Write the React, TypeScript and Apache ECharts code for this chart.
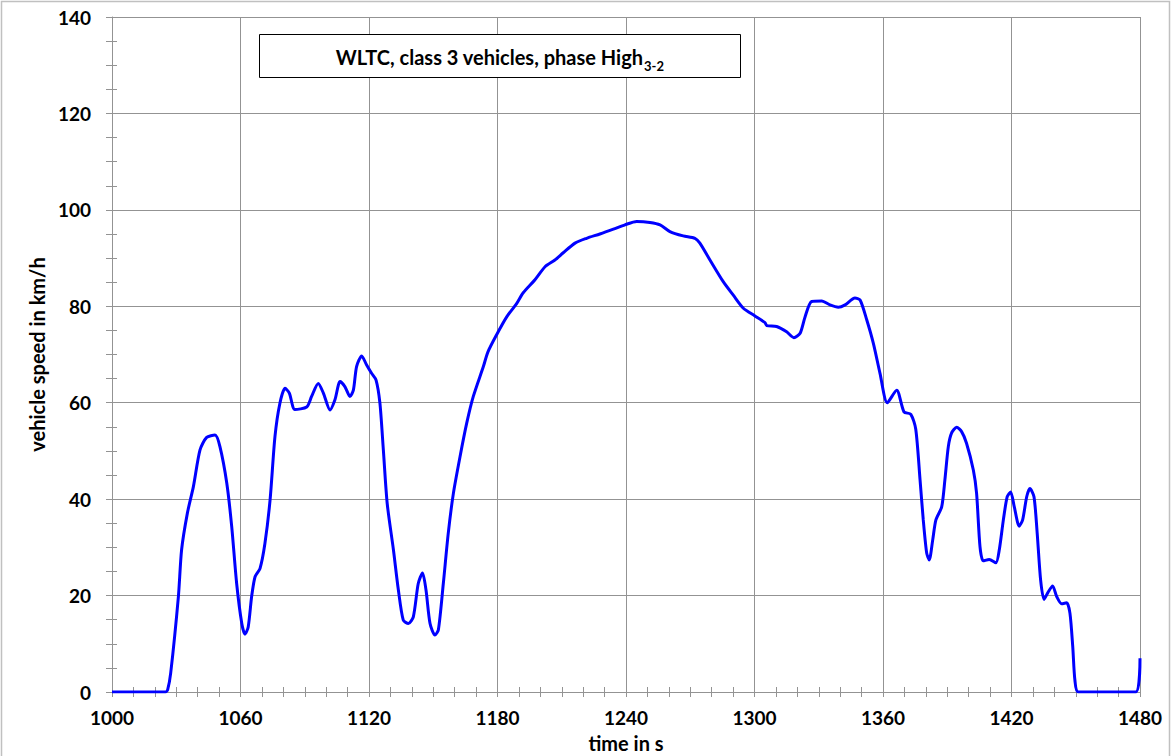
import React, { useEffect, useRef } from "react";
import * as echarts from "echarts";

const times = [
  1000, 1025, 1026, 1027.4, 1031, 1032.5, 1035.2, 1038, 1041.1, 1044.2, 1048.1, 1050.4, 1053.6, 1055.9,
  1058.2, 1060.6, 1062.1, 1063.6, 1065.2, 1066.8, 1069.1, 1071.4, 1073.8, 1076.1, 1078.4, 1080.8, 1082.8,
  1085.4, 1090.9, 1093.2, 1096.3, 1098.7, 1101.8, 1104.1, 1106.5, 1108.8, 1111.1, 1112.7, 1114.2, 1116.6,
  1118.9, 1121.2, 1123.3, 1125.1, 1126.7, 1128.5, 1131.4, 1133.7, 1136.0, 1138.4, 1140.7, 1143.0, 1145.0,
  1146.6, 1148.5, 1150.8, 1152.4, 1154.7, 1157.0, 1159.4, 1162.5, 1165.6, 1168.7, 1173.4, 1175.5, 1179.6,
  1184.3, 1189.0, 1192.0, 1197.5, 1202.2, 1206.8, 1210.7, 1216.2, 1221.6, 1227.8, 1234.1, 1239.5, 1245.0,
  1251.2, 1255.9, 1260.5, 1266.7, 1272.2, 1274.5, 1279.2, 1285.4, 1290.1, 1294.8, 1300.2, 1304.9, 1305.7,
  1310.3, 1315.0, 1318.4, 1321.3, 1323.6, 1326.7, 1331.4, 1335.2, 1339.1, 1342.3, 1346.9, 1349.3, 1352.4,
  1355.5, 1358.6, 1362.0, 1366.4, 1369.8, 1373.0, 1375.3, 1377.3, 1378.8, 1380.4, 1381.6, 1383.2, 1384.7,
  1387.4, 1388.9, 1390.5, 1392.0, 1394.4, 1396.7, 1399.0, 1402.2, 1403.7, 1405.3, 1406.8, 1409.6, 1412.7,
  1414.3, 1416.2, 1418.0, 1419.6, 1421.3, 1423.6, 1425.2, 1427.1, 1428.6, 1430.5, 1432.0, 1433.6, 1435.2,
  1437.2, 1439.2, 1441.1, 1443.4, 1445.8, 1447.3, 1448.6, 1449.6, 1451.2, 1478, 1480,
];

const speeds = [
  0, 0, 0.5, 3.9, 19.8, 29.5, 37.1, 42.6, 50.2, 52.8, 53.3, 50.9, 43.3, 34.3,
  22.5, 14.2, 12.0, 13.5, 19.8, 23.9, 25.6, 30.8, 39.8, 53.0, 59.9, 63.0, 62.0,
  58.6, 59.1, 61.3, 64.0, 62.0, 58.5, 60.6, 64.4, 63.3, 61.3, 62.6, 67.5, 69.7,
  67.8, 66.1, 64.7, 59.9, 50.2, 39.1, 29.5, 21.2, 14.9, 14.2, 15.6, 22.5, 24.7,
  21.2, 14.2, 11.8, 12.9, 22.5, 32.9, 41.2, 48.8, 55.7, 61.3, 67.5, 70.5, 74.1,
  77.8, 80.6, 82.8, 85.5, 88.2, 89.6, 91.1, 93.1, 94.1, 95.0, 96.0, 96.9, 97.6,
  97.4, 96.9, 95.5, 94.6, 94.1, 93.1, 89.6, 85.1, 82.3, 79.6, 78.0, 76.6, 76.0,
  75.8, 74.7, 73.5, 74.4, 77.8, 81.0, 81.1, 80.3, 79.8, 80.3, 81.7, 81.3, 77.2,
  72.3, 66.1, 60.0, 62.6, 58.1, 57.6, 54.5, 44.0, 35.7, 28.8, 27.4, 31.5, 35.7,
  38.4, 44.0, 50.9, 53.7, 54.9, 54.0, 51.6, 46.0, 41.2, 30.1, 27.2, 27.5, 26.8,
  29.5, 35.7, 40.5, 41.5, 38.4, 34.4, 35.7, 40.5, 42.2, 40.5, 32.9, 23.2, 19.2,
  20.8, 22.0, 19.8, 18.3, 18.5, 16.3, 9.4, 2.5, 0, 0, 7.0,
];

const X_MIN = 1000;
const X_MAX = 1480;
const X_STEP = 60;
const Y_MIN = 0;
const Y_MAX = 140;
const Y_STEP = 20;

const TITLE_MAIN = "WLTC, class 3 vehicles, phase High";
const TITLE_SUB = "3-2";
const X_NAME = "time in s";
const Y_NAME = "vehicle speed in km/h";

const FONT = "Lato";
const GRID_COLOR = "#939393";

export default function App() {
  const ref = useRef<HTMLDivElement>(null);

  useEffect(() => {
    document.body.style.margin = "0";
    if (!ref.current) return;
    const chart = echarts.init(ref.current, undefined, { renderer: "svg" });
    const data = times.map((t, i) => [t, speeds[i]]);

    const tickStyle = { color: GRID_COLOR, width: 1 };
    const plain = (v: number) => String(v);

    chart.setOption({
      animation: false,
      backgroundColor: "#ffffff",
      grid: {
        left: 112,
        top: 17,
        right: 31,
        bottom: 64,
        containLabel: false,
        outerBoundsMode: "none",
      },
      xAxis: [
        {
          type: "value",
          min: X_MIN,
          max: X_MAX,
          interval: X_STEP,
          position: "bottom",
          name: X_NAME,
          nameLocation: "middle",
          nameGap: 41,
          nameTextStyle: { fontFamily: FONT, fontWeight: "bold", fontSize: 20, color: "#000" },
          axisLine: { show: true, lineStyle: { color: GRID_COLOR, width: 1 } },
          axisTick: { show: true, length: 5, lineStyle: tickStyle },
          minorTick: { show: true, splitNumber: 6, length: 5, lineStyle: tickStyle },
          splitLine: { show: true, lineStyle: { color: GRID_COLOR, width: 1 } },
          axisLabel: {
            fontFamily: FONT,
            fontWeight: "bold",
            fontSize: 19,
            color: "#000",
            margin: 16,
            formatter: plain,
          },
        },
        {
          type: "value",
          min: X_MIN,
          max: X_MAX,
          interval: X_STEP,
          position: "bottom",
          axisLine: { show: false },
          axisTick: { show: true, inside: true, length: 5, lineStyle: tickStyle },
          minorTick: { show: true, splitNumber: 6, length: 5, lineStyle: tickStyle },
          splitLine: { show: false },
          axisLabel: { show: false },
        },
      ],
      yAxis: [
        {
          type: "value",
          min: Y_MIN,
          max: Y_MAX,
          interval: Y_STEP,
          position: "left",
          name: Y_NAME,
          nameLocation: "middle",
          nameGap: 62,
          nameRotate: 90,
          nameTextStyle: { fontFamily: FONT, fontWeight: "bold", fontSize: 20, color: "#000" },
          axisLine: { show: true, lineStyle: { color: GRID_COLOR, width: 1 } },
          axisTick: { show: true, length: 6, lineStyle: tickStyle },
          minorTick: { show: true, splitNumber: 4, length: 6, lineStyle: tickStyle },
          splitLine: { show: true, lineStyle: { color: GRID_COLOR, width: 1 } },
          axisLabel: {
            fontFamily: FONT,
            fontWeight: "bold",
            fontSize: 19,
            color: "#000",
            margin: 21,
            formatter: plain,
          },
        },
        {
          type: "value",
          min: Y_MIN,
          max: Y_MAX,
          interval: Y_STEP,
          position: "left",
          axisLine: { show: false },
          axisTick: { show: true, inside: true, length: 5, lineStyle: tickStyle },
          minorTick: { show: true, splitNumber: 4, length: 5, lineStyle: tickStyle },
          splitLine: { show: false },
          axisLabel: { show: false },
        },
      ],
      series: [
        {
          type: "line",
          data,
          showSymbol: false,
          symbol: "none",
          smooth: 0.25,
          lineStyle: { color: "#0000ff", width: 3 },
          z: 5,
        },
      ],
      graphic: [
        {
          type: "rect",
          shape: { x: 1.5, y: 1.5, width: 1168, height: 770 },
          style: { fill: "none", stroke: "#c0c0c0", lineWidth: 1.5 },
          silent: true,
          z: 0,
        },
        {
          type: "rect",
          shape: { x: 259.5, y: 34.5, width: 481, height: 43 },
          style: { fill: "#ffffff", stroke: "#000000", lineWidth: 1 },
          z: 10,
        },
        {
          type: "text",
          x: 643,
          y: 57,
          style: {
            text: TITLE_MAIN,
            fontFamily: FONT,
            fontWeight: "bold",
            fontSize: 20,
            fill: "#000",
            textAlign: "right",
            textVerticalAlign: "middle",
          },
          z: 11,
        },
        {
          type: "text",
          x: 644,
          y: 66,
          style: {
            text: TITLE_SUB,
            fontFamily: FONT,
            fontWeight: "bold",
            fontSize: 13,
            fill: "#000",
            textAlign: "left",
            textVerticalAlign: "middle",
          },
          z: 11,
        },
      ],
    });

    return () => chart.dispose();
  }, []);

  return <div ref={ref} style={{ width: 1171, height: 756 }} />;
}
